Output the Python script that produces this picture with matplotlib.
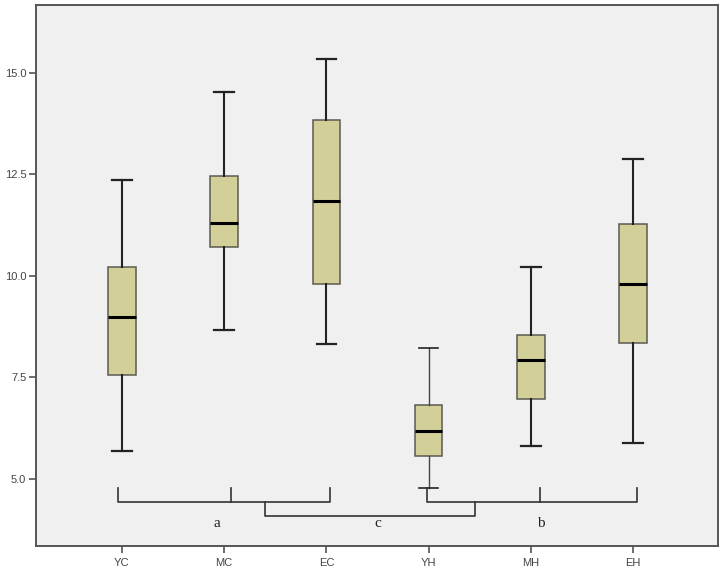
import matplotlib
matplotlib.use("Agg")
import matplotlib.pyplot as plt

categories = ["YC", "MC", "EC", "YH", "MH", "EH"]
whisker_low = [5.69, 8.66, 8.33, 4.79, 5.80, 5.89]
q1 = [7.55, 10.71, 9.79, 5.57, 6.98, 8.36]
median = [9.00, 11.31, 11.85, 6.18, 7.93, 9.80]
q3 = [10.23, 12.45, 13.85, 6.82, 8.55, 11.29]
whisker_high = [12.37, 14.53, 15.34, 8.23, 10.22, 12.88]
yticks = [5.0, 7.5, 10.0, 12.5, 15.0]
group_labels = ["a", "c", "b"]

fig = plt.figure(figsize=(7.23, 5.72), dpi=100)
ax = fig.add_axes([36/723, 1-546/572, (718-36)/723, (546-5)/572])
ax.set_facecolor("#F0F0F0")

stats = []
for i, c in enumerate(categories):
    stats.append(dict(label=c, whislo=whisker_low[i], q1=q1[i], med=median[i],
                      q3=q3[i], whishi=whisker_high[i], fliers=[]))
bp = ax.bxp(stats, positions=range(len(categories)), widths=0.27,
            patch_artist=True, showfliers=False,
            boxprops=dict(facecolor="#D3CF98", edgecolor="#5a5a50", linewidth=1.1),
            medianprops=dict(color="black", linewidth=2.2),
            whiskerprops=dict(color="#222222", linewidth=1.5),
            capprops=dict(color="#222222", linewidth=1.6))
for c in bp["caps"]:
    xd = c.get_xdata()
    m = (xd[0] + xd[1]) / 2
    c.set_xdata([m - 0.19/2, m + 0.19/2])
# YH whiskers thinner
for j in (6, 7):
    bp["whiskers"][j].set_linewidth(1.0)
    bp["whiskers"][j].set_color("#444444")
    bp["caps"][j].set_linewidth(1.2)

ax.set_xlim(-0.84, 5.83)
ax.set_ylim(3.35, 16.67)
ax.set_yticks(yticks)
ax.set_yticklabels([f"{v:.1f}" for v in yticks])
ax.set_xticks(range(len(categories)))
ax.set_xticklabels(categories)
ax.tick_params(axis="both", direction="out", length=5, width=1.1, color="#444444",
               labelsize=8, labelcolor="#444444")
for lab in ax.get_xticklabels() + ax.get_yticklabels():
    lab.set_fontfamily("Liberation Sans")
ax.tick_params(axis="y", pad=2)
ax.tick_params(axis="x", pad=4)
for s in ax.spines.values():
    s.set_color("#555555")
    s.set_linewidth(1.4)

lc = "#333333"
lw = 1.2
# left bracket
ax.plot([-0.04, -0.04, 2.04, 2.04], [4.78, 4.43, 4.43, 4.78], color=lc, lw=lw)
ax.plot([1.07, 1.07], [4.43, 4.78], color=lc, lw=lw)
# right bracket
ax.plot([2.98, 2.98, 5.04, 5.04], [4.78, 4.43, 4.43, 4.78], color=lc, lw=lw)
ax.plot([4.09, 4.09], [4.43, 4.78], color=lc, lw=lw)
# connecting bracket
ax.plot([1.40, 1.40, 3.45, 3.45], [4.43, 4.10, 4.10, 4.43], color=lc, lw=lw)

label_x = [0.93, 2.50, 4.10]
for x, t in zip(label_x, group_labels):
    ax.text(x, 3.90, t, ha="center", va="center", fontsize=11,
            family="Liberation Serif", color="#222222")

fig.savefig("out.png", dpi=100)
